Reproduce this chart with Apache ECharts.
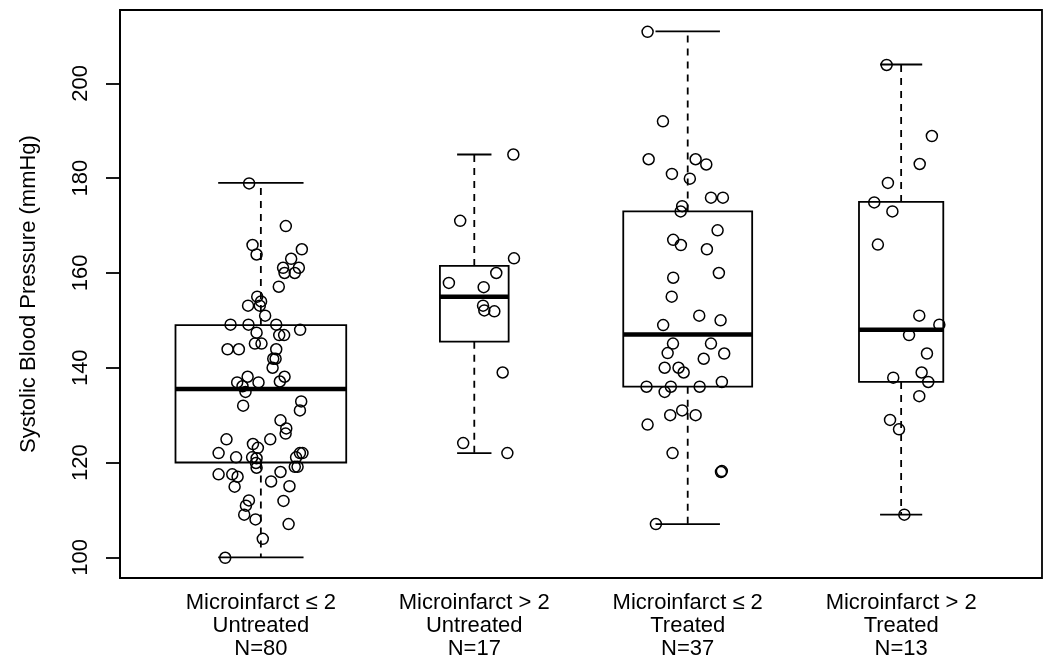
<!DOCTYPE html>
<html>
<head>
<meta charset="utf-8">
<script src="https://cdn.jsdelivr.net/npm/echarts@6/dist/echarts.min.js"></script>
<style>html,body{margin:0;padding:0;background:#fff}#c{width:1050px;height:666px}</style>
</head>
<body>
<div id="c"></div>
<script>
// ---- data ----
const groupNames = ['Microinfarct \u2264 2', 'Microinfarct > 2', 'Microinfarct \u2264 2', 'Microinfarct > 2'];
const treatNames = ['Untreated', 'Untreated', 'Treated', 'Treated'];
const nLabels = ['N=80', 'N=17', 'N=37', 'N=13'];
const yTicks = [100, 120, 140, 160, 180, 200];

const lowerWhisker = [100, 122, 107, 109];
const q1 = [120, 145.5, 136, 137];
const median = [135.5, 155, 147, 148];
const q3 = [149, 161.5, 173, 175];
const upperWhisker = [179, 185, 211, 204];

// jittered points: [offset from group centre, value]
const pts1 = [[-0.055,178.9],[0.117,169.9],[-0.039,165.9],[-0.020,163.9],[0.192,165.0],[0.142,163.0],[0.104,161.1],[0.178,161.1],[0.111,160.0],[0.159,160.0],[0.084,157.1],[-0.017,155.0],[0.001,154.0],[-0.060,153.1],[-0.005,153.1],[0.020,151.0],[-0.142,149.1],[-0.058,149.1],[0.072,149.1],[0.184,148.0],[-0.020,147.4],[0.086,146.9],[0.109,146.9],[-0.028,145.1],[0.003,145.1],[-0.156,143.9],[-0.103,143.9],[0.072,143.9],[0.058,141.9],[0.069,141.9],[0.055,140.0],[-0.062,138.1],[0.111,138.1],[-0.111,136.9],[-0.011,136.9],[0.089,137.1],[-0.086,136.1],[-0.072,134.9],[-0.083,132.0],[0.189,132.9],[0.183,131.0],[0.092,128.9],[0.119,127.2],[0.116,126.1],[-0.161,124.9],[0.044,124.9],[-0.037,123.9],[-0.014,123.1],[-0.198,122.0],[-0.116,121.1],[-0.041,121.1],[-0.020,120.9],[0.183,122.0],[0.195,122.0],[0.165,121.1],[-0.023,119.9],[-0.020,118.9],[0.159,119.1],[0.172,119.1],[-0.198,117.5],[-0.134,117.5],[-0.109,117.0],[0.092,118.0],[0.048,116.0],[-0.123,114.9],[0.134,115.0],[-0.056,112.0],[-0.070,110.9],[0.106,111.9],[-0.078,109.0],[-0.025,108.0],[0.130,107.0],[0.009,103.9],[-0.167,99.9]];
const pts2 = [[0.183,185.0],[-0.066,171.0],[0.186,163.1],[0.103,160.0],[-0.119,157.9],[0.044,157.0],[0.041,153.1],[0.047,152.1],[0.094,151.9],[0.133,139.0],[-0.052,124.1],[0.155,122.0]];
const pts3 = [[-0.188,210.9],[-0.116,192.0],[-0.183,184.0],[0.037,184.0],[0.087,182.9],[-0.074,180.9],[0.010,179.9],[0.109,175.9],[0.165,175.9],[-0.026,174.1],[-0.033,173.0],[0.140,169.0],[-0.068,167.0],[-0.032,165.9],[0.090,165.0],[0.146,160.0],[-0.068,159.0],[-0.075,155.0],[0.054,151.0],[0.154,150.0],[-0.115,149.0],[-0.069,145.1],[0.109,145.1],[-0.094,143.1],[0.171,143.0],[0.075,141.9],[-0.108,140.0],[-0.043,140.0],[-0.019,139.0],[-0.193,136.0],[-0.079,136.0],[0.056,136.0],[0.160,137.0],[-0.108,134.9],[-0.026,131.0],[-0.082,130.0],[0.037,130.0],[-0.188,128.0],[-0.071,122.0],[0.156,118.0],[0.160,118.2],[-0.149,107.0]];
const pts4 = [[-0.068,203.9],[0.144,188.9],[0.087,183.0],[-0.062,179.0],[-0.126,174.9],[-0.041,173.0],[-0.109,166.0],[0.085,151.0],[0.179,149.1],[0.037,146.9],[0.121,143.0],[-0.037,137.9],[0.096,139.0],[0.127,137.0],[0.085,134.0],[-0.052,129.0],[-0.010,127.0],[0.015,109.0]];

// ---- style ----
const BOX_WIDTHS = [0.80, 0.322, 0.604, 0.395];
const FONT = 'Liberation Sans, Arial, sans-serif';
const LW = 1.8;

const boxData = lowerWhisker.map((lw, i) => [i + 1, lw, q1[i], median[i], q3[i], upperWhisker[i]]);
const pointData = [];
[pts1, pts2, pts3, pts4].forEach((arr, g) => arr.forEach(p => pointData.push([g + 1 + p[0], p[1]])));

function renderBox(params, api) {
  const i = params.dataIndex;
  const x = api.value(0);
  const w = api.size([BOX_WIDTHS[i], 0])[0];
  const pLow = api.coord([x, api.value(1)]);
  const pQ1 = api.coord([x, api.value(2)]);
  const pMed = api.coord([x, api.value(3)]);
  const pQ3 = api.coord([x, api.value(4)]);
  const pHigh = api.coord([x, api.value(5)]);
  const cx = pMed[0];
  const solid = { stroke: '#000', lineWidth: LW, fill: null };
  const dashed = { stroke: '#000', lineWidth: LW, lineDash: [7, 6], fill: null };
  return {
    type: 'group',
    children: [
      { type: 'line', shape: { x1: cx, y1: pQ3[1], x2: cx, y2: pHigh[1] }, style: dashed },
      { type: 'line', shape: { x1: cx, y1: pQ1[1], x2: cx, y2: pLow[1] }, style: dashed },
      { type: 'line', shape: { x1: cx - w / 4, y1: pHigh[1], x2: cx + w / 4, y2: pHigh[1] }, style: solid },
      { type: 'line', shape: { x1: cx - w / 4, y1: pLow[1], x2: cx + w / 4, y2: pLow[1] }, style: solid },
      { type: 'rect', shape: { x: cx - w / 2, y: pQ3[1], width: w, height: pQ1[1] - pQ3[1] }, style: { stroke: '#000', lineWidth: LW, fill: '#fff' } },
      { type: 'line', shape: { x1: cx - w / 2, y1: pMed[1], x2: cx + w / 2, y2: pMed[1] }, style: { stroke: '#000', lineWidth: 4.5 } }
    ]
  };
}

const chart = echarts.init(document.getElementById('c'), null, { renderer: 'canvas' });
chart.setOption({
  animation: false,
  backgroundColor: '#fff',
  grid: { left: 120, right: 8, top: 10, bottom: 88, show: true, borderColor: '#000', borderWidth: LW, backgroundColor: 'transparent' },
  xAxis: {
    type: 'value', min: 0.34, max: 4.66,
    axisLine: { show: false }, axisTick: { show: false }, splitLine: { show: false },
    axisLabel: {
      customValues: [1, 2, 3, 4],
      formatter: v => { const i = Math.round(v) - 1; return groupNames[i] + '\n' + treatNames[i] + '\n' + nLabels[i]; },
      fontFamily: FONT, fontSize: 22, color: '#000', lineHeight: 23, margin: 13, align: 'center'
    }
  },
  yAxis: {
    type: 'value', min: 95.63, max: 215.5,
    name: 'Systolic Blood Pressure (mmHg)', nameLocation: 'middle', nameGap: 80, nameRotate: 90,
    nameTextStyle: { fontFamily: FONT, fontSize: 22, color: '#000' },
    axisLine: { show: true, lineStyle: { color: '#000', width: LW } },
    axisTick: { show: true, customValues: yTicks, length: 14, lineStyle: { color: '#000', width: LW } },
    axisLabel: { customValues: yTicks, rotate: 90, margin: 28, fontFamily: FONT, fontSize: 22, color: '#000' },
    splitLine: { show: false }
  },
  series: [
    { type: 'custom', renderItem: renderBox, data: boxData, encode: { x: 0, y: [1, 2, 3, 4, 5] }, silent: true, z: 2 },
    { type: 'scatter', data: pointData, symbol: 'circle', symbolSize: 11, silent: true, z: 3,
      itemStyle: { color: 'rgba(0,0,0,0)', borderColor: '#000', borderWidth: 1.5, opacity: 1 } }
  ]
});
</script>
</body>
</html>
